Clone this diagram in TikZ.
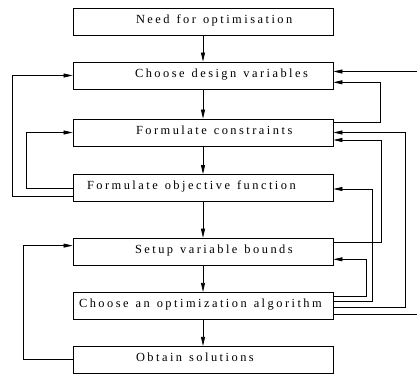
\documentclass[tikz,border=0pt]{standalone}
\usepackage{fontspec}
\setmainfont{Liberation Serif}[LetterSpace=20]
\usetikzlibrary{arrows.meta,calc}
\newcommand\bxfont{\fontsize{12.4}{14}\selectfont}
\newcommand\bxspace{\spaceskip=7pt plus 1pt\relax}
\begin{document}
\begin{tikzpicture}[x=1pt,y=-1pt,
  box/.style={draw, line width=0.8pt, minimum height=27pt, text width=250pt,
    inner xsep=5pt, align=left, font=\bxfont,
    execute at begin node=\bxspace,
    text height=9pt, text depth=5.4pt},
  arr/.style={-{Triangle[length=9pt,width=4pt]}, line width=0.7pt}]
\useasboundingbox (0,0) rectangle (417,374);
\node[box] (b1) at (203,21.6)  {\hspace*{58pt}Need for optimisation};
\node[box] (b2) at (203,75.5)  {\hspace*{57pt}Choose design variables};
\node[box] (b3) at (203,132.5) {\hspace*{58pt}Formulate constraints};
\node[box] (b4) at (203,188)   {\hspace*{9pt}Formulate objective function};
\node[box] (b5) at (203,251.6) {\hspace*{57pt}Setup variable bounds};
\node[box] (b6) at (203,305.8) {\hspace*{1pt}Choose an optimization algorithm};
\node[box] (b7) at (203,359.8) {\hspace*{58pt}Obtain solutions};
% main flow
\draw[arr] (b1.south) -- (b2.north);
\draw[arr] (b2.south) -- (b3.north);
\draw[arr] (b3.south) -- (b4.north);
\draw[arr] (b4.south) -- (b5.north);
\draw[arr] (b5.south) -- (b6.north);
\draw[arr] (b6.south) -- (b7.north);
% left feedback
\draw[arr] ($(b4.west)+(0,8.6)$) -| ($(b2.west)+(-60.3,0)$) -- (b2.west);
\draw[arr] (b4.west) -| ($(b3.west)+(-46.3,0)$) -- (b3.west);
\draw[arr] (b7.west) -| ($(b5.west)+(-49.7,-6)$) -- ($(b5.west)+(0,-6)$);
% right feedback
\draw[arr] ($(b3.east)+(0,-9.8)$) -| ($(b2.east)+(47,6.8)$) -- ($(b2.east)+(0,6.8)$);
\draw[arr] ($(b6.east)+(0,1.9)$) -| ($(b3.east)+(72,0)$) -- (b3.east);
\draw[arr] ($(b5.east)+(0,-8.9)$) -| ($(b3.east)+(47.7,7.5)$) -- ($(b3.east)+(0,7.5)$);
\draw[arr] ($(b6.east)+(0,-4.1)$) -| ($(b4.east)+(38.7,1)$) -- ($(b4.east)+(0,1)$);
\draw[arr] ($(b6.east)+(0,-9.8)$) -| ($(b5.east)+(32.7,7.7)$) -- ($(b5.east)+(0,7.7)$);
\begin{scope}
\clip (0,0) rectangle (417,374);
\draw[arr] ($(b6.east)+(0,8.2)$) -| ($(b2.east)+(100,-4)$) -- ($(b2.east)+(0,-4)$);
\end{scope}
\end{tikzpicture}
\end{document}
